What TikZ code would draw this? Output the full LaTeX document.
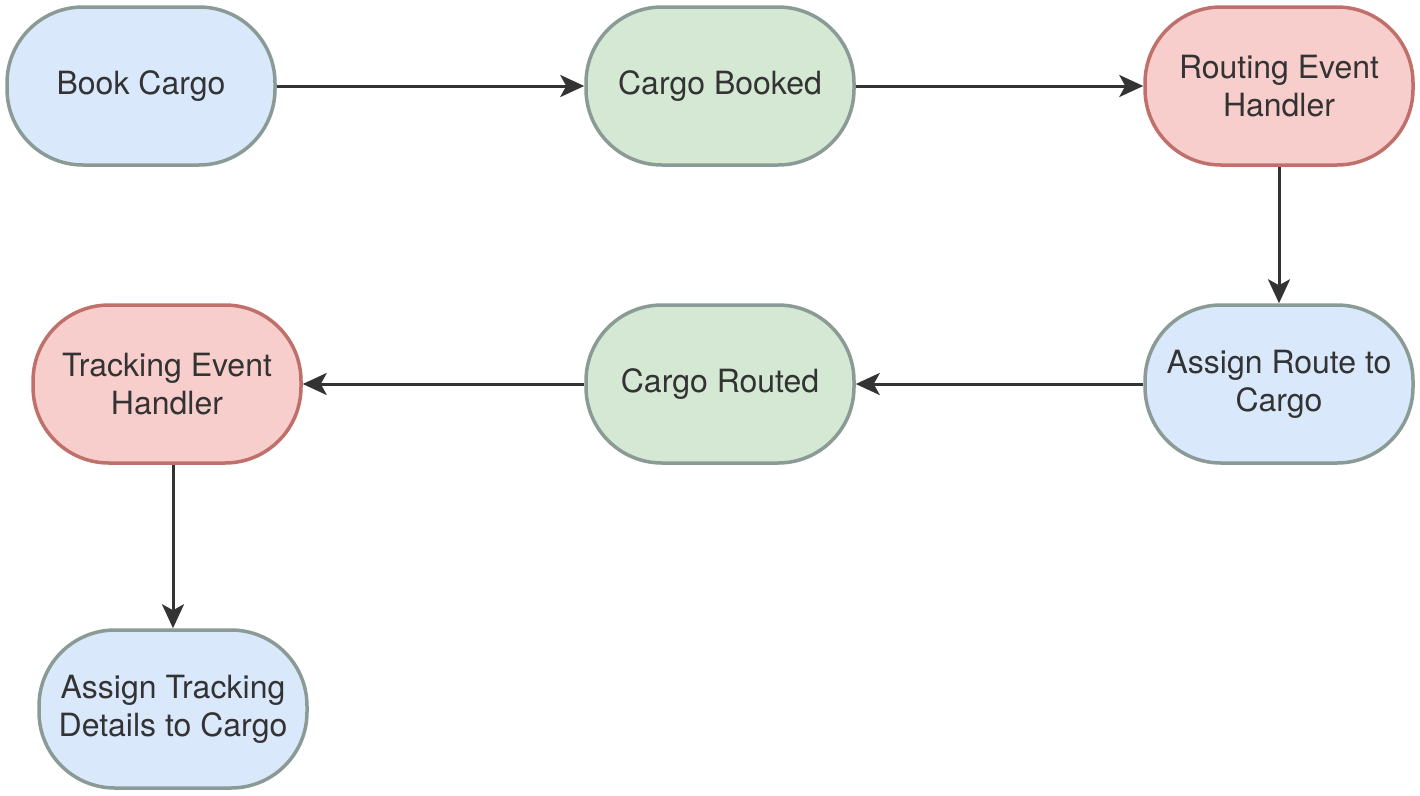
\documentclass[tikz,border=0pt]{standalone}
\usepackage{fontspec}
\setmainfont{TeX Gyre Heros}
\usetikzlibrary{arrows.meta}
\definecolor{bluefill}{HTML}{DAE8FC}
\definecolor{greenfill}{HTML}{D5E8D4}
\definecolor{redfill}{HTML}{F8CECC}
\definecolor{grayline}{HTML}{8A9B95}
\definecolor{redline}{HTML}{C0706B}
\definecolor{ink}{HTML}{333333}
\tikzset{
  stadium/.style={rectangle, rounded corners=76pt, minimum width=268pt, minimum height=158pt,
    line width=3.5pt, align=center, text=ink, font=\fontsize{32}{38}\selectfont, inner sep=0pt},
  bluebox/.style={stadium, fill=bluefill, draw=grayline},
  greenbox/.style={stadium, fill=greenfill, draw=grayline},
  redbox/.style={stadium, fill=redfill, draw=redline},
  flow/.style={draw=ink, line width=3pt, -{Stealth[length=24pt,width=22pt,inset=6pt]}}
}
\begin{document}
\begin{tikzpicture}[x=1pt,y=-1pt]
\useasboundingbox (0,0) rectangle (1420,795);
\node[bluebox]  (n1) at (141,86)  {Book Cargo};
\node[greenbox] (n2) at (720,86)  {Cargo Booked};
\node[redbox]   (n3) at (1279,86) {Routing Event\\Handler};
\node[bluebox]  (n4) at (1279,384) {Assign Route to\\Cargo};
\node[greenbox] (n5) at (720,384) {Cargo Routed};
\node[redbox]   (n6) at (167,384) {Tracking Event\\Handler};
\node[bluebox]  (n7) at (173,709) {Assign Tracking\\Details to Cargo};
\draw[flow] (n1) -- (n2);
\draw[flow] (n2) -- (n3);
\draw[flow] (n3) -- (n4);
\draw[flow] (n4) -- (n5);
\draw[flow] (n5) -- (n6);
\draw[flow] (n6.south -| n7.north) -- (n7.north);
\end{tikzpicture}
\end{document}
